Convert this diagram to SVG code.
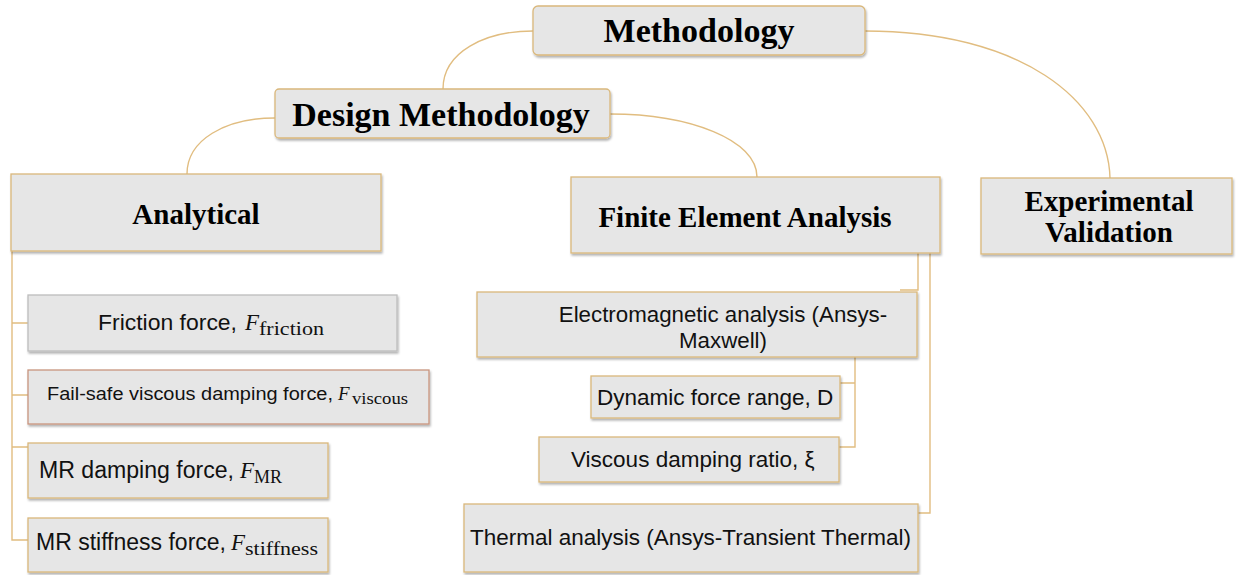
<svg xmlns="http://www.w3.org/2000/svg" width="1236" height="575" viewBox="0 0 1236 575">
<defs>
<filter id="sh" x="-5%" y="-10%" width="110%" height="130%">
<feDropShadow dx="1" dy="2" stdDeviation="1.2" flood-color="#000" flood-opacity="0.3"/>
</filter>
</defs>
<style>
.box{fill:#e6e6e6;stroke:#dab87c;stroke-width:1.3;filter:url(#sh)}
.grey{stroke:#bdbdbd}
.red{stroke:#c9957f}
.con{fill:none;stroke:#e1bd80;stroke-width:1.4}
.h{font-family:"Liberation Serif","Times New Roman",serif;font-weight:bold;fill:#000;text-anchor:middle}
.t{font-family:"Liberation Sans",Arial,sans-serif;fill:#111}
.m{font-family:"Liberation Serif","Times New Roman",serif;font-style:italic;fill:#111}
.s{font-family:"Liberation Serif","Times New Roman",serif;fill:#111}
</style>
<rect width="1236" height="575" fill="#fff"/>
<g id="connectors">
<path class="con" d="M533,31 C485,31 443,52 443,89"/>
<path class="con" d="M865,31 C1020,31 1108,100 1110,178"/>
<path class="con" d="M275,118 C225,118 187,140 187,174"/>
<path class="con" d="M610,114 C690,114 757,140 757,177"/>
<path class="con" d="M12,251 V540 H28 M12,323 H28 M12,395 H28 M12,447 H28"/>
<path class="con" d="M918,253 V290 H900"/>
<path class="con" d="M930,253 V513 H918"/>
<path class="con" d="M855,357 V447 H839 M855,383 H840"/>
</g>
<g id="methodology">
<rect class="box" x="533" y="6" width="332" height="49" rx="5"/>
<text class="h" x="699" y="42" font-size="34">Methodology</text>
</g>
<g id="design">
<rect class="box" x="275" y="89" width="335" height="49" rx="4"/>
<text class="h" x="441" y="126" font-size="34">Design Methodology</text>
</g>
<g id="analytical">
<rect class="box" x="11" y="174" width="370" height="77"/>
<text class="h" x="196" y="224" font-size="29">Analytical</text>
</g>
<g id="fea">
<rect class="box" x="571" y="177" width="369" height="76"/>
<text class="h" x="745" y="227" font-size="29">Finite Element Analysis</text>
</g>
<g id="experimental">
<rect class="box" x="981" y="178" width="251" height="76"/>
<text class="h" x="1109" y="211" font-size="29">Experimental</text>
<text class="h" x="1109" y="242" font-size="29">Validation</text>
</g>
<g id="friction">
<rect class="box grey" x="28" y="295" width="369" height="56"/>
<text class="t" x="98" y="330" font-size="22" textLength="139" lengthAdjust="spacingAndGlyphs">Friction force,</text>
<text class="m" x="245" y="330" font-size="23">F</text>
<text class="s" x="259" y="335" font-size="19" textLength="65" lengthAdjust="spacingAndGlyphs">friction</text>
</g>
<g id="failsafe">
<rect class="box red" x="28" y="370" width="401" height="54"/>
<text class="t" x="47" y="400" font-size="17.5" textLength="286" lengthAdjust="spacingAndGlyphs">Fail-safe viscous damping force,</text>
<text class="m" x="338" y="400" font-size="19">F</text>
<text class="s" x="352" y="404" font-size="16" textLength="56" lengthAdjust="spacingAndGlyphs">viscous</text>
</g>
<g id="mrdamping">
<rect class="box" x="28" y="443" width="300" height="55"/>
<text class="t" x="39" y="478" font-size="23" textLength="195" lengthAdjust="spacingAndGlyphs">MR damping force,</text>
<text class="m" x="240" y="478" font-size="23">F</text>
<text class="s" x="254" y="483" font-size="18" textLength="28" lengthAdjust="spacingAndGlyphs">MR</text>
</g>
<g id="mrstiffness">
<rect class="box" x="28" y="518" width="300" height="54"/>
<text class="t" x="36" y="550" font-size="23" textLength="190" lengthAdjust="spacingAndGlyphs">MR stiffness force,</text>
<text class="m" x="231" y="550" font-size="23">F</text>
<text class="s" x="245" y="555" font-size="19" textLength="73" lengthAdjust="spacingAndGlyphs">stiffness</text>
</g>
<g id="em">
<rect class="box" x="477" y="292" width="440" height="65"/>
<text class="t" x="723" y="322" font-size="22.3" text-anchor="middle">Electromagnetic analysis (Ansys-</text>
<text class="t" x="723" y="348" font-size="22.3" text-anchor="middle">Maxwell)</text>
</g>
<g id="dynamic">
<rect class="box" x="591" y="376" width="249" height="42"/>
<text class="t" x="597" y="405" font-size="22.5">Dynamic force range, D</text>
</g>
<g id="viscousratio">
<rect class="box" x="539" y="437" width="300" height="45"/>
<text class="t" x="571" y="467" font-size="22.5">Viscous damping ratio, ξ</text>
</g>
<g id="thermal">
<rect class="box" x="464" y="504" width="454" height="68"/>
<text class="t" x="470" y="545" font-size="22.4" textLength="441" lengthAdjust="spacingAndGlyphs">Thermal analysis (Ansys-Transient Thermal)</text>
</g>
</svg>
